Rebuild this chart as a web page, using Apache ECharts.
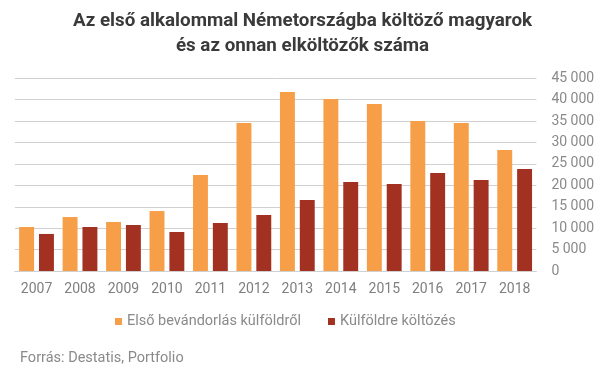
<!DOCTYPE html>
<html>
<head>
<meta charset="utf-8">
<script src="https://cdn.jsdelivr.net/npm/echarts@6/dist/echarts.min.js"></script>
<style>html,body{margin:0;padding:0;background:#fff}#c{width:605px;height:378px}</style>
</head>
<body>
<div id="c"></div>
<script>
const categories = ['2007','2008','2009','2010','2011','2012','2013','2014','2015','2016','2017','2018'];
const arrivals = [10280, 12600, 11450, 14000, 22400, 34560, 41800, 40170, 39000, 35030, 34560, 28260];
const departures = [8650, 10280, 10740, 9110, 11210, 13080, 16580, 20790, 20320, 22890, 21250, 23820];
const seriesNames = ['Első bevándorlás külföldről', 'Külföldre költözés'];
const yTicks = { min: 0, max: 45000, interval: 5000 };

const fmt = v => String(v).replace(/\B(?=(\d{3})+(?!\d))/g, ' ');
const chart = echarts.init(document.getElementById('c'), null, { renderer: 'canvas' });
chart.setOption({
  animation: false,
  backgroundColor: '#ffffff',
  textStyle: { fontFamily: 'Roboto' },
  title: [
    {
      text: 'Az első alkalommal Németországba költöző magyarok\nés az onnan elköltözők száma',
      left: 'center', top: 9, padding: 0,
      textStyle: { fontFamily: 'Roboto', fontSize: 18.8, fontWeight: 'bold', color: '#3a3a3a', lineHeight: 25 }
    },
    {
      text: 'Forrás: Destatis, Portfolio',
      left: 20, top: 351, padding: 0,
      textStyle: { fontFamily: 'Roboto', fontSize: 14.5, fontWeight: 'normal', color: '#8a8a8a' }
    }
  ],
  legend: {
    left: 115, top: 314, padding: 0,
    itemWidth: 7, itemHeight: 7, itemGap: 27,
    icon: 'rect',
    textStyle: { fontFamily: 'Roboto', fontSize: 14.5, color: '#8a8a8a' },
    data: seriesNames
  },
  grid: { left: 14.8, right: 68.6, top: 78.3, bottom: 107, containLabel: false },
  xAxis: {
    type: 'category',
    data: categories,
    axisLine: { lineStyle: { color: '#d0d0d0', width: 1 } },
    axisTick: { show: false },
    axisLabel: { color: '#7f7f7f', fontSize: 14, fontFamily: 'Roboto', margin: 11 }
  },
  yAxis: {
    type: 'value',
    position: 'right',
    min: yTicks.min, max: yTicks.max, interval: yTicks.interval,
    axisLine: { show: false },
    axisTick: { show: false },
    splitLine: { lineStyle: { color: '#d0d0d0', width: 1 } },
    axisLabel: { color: '#8a8a8a', fontSize: 14, fontFamily: 'Roboto', margin: 15, formatter: fmt }
  },
  series: [
    { name: seriesNames[0], type: 'bar', data: arrivals, itemStyle: { color: '#F79E48' }, barGap: '33%', barCategoryGap: '20%' },
    { name: seriesNames[1], type: 'bar', data: departures, itemStyle: { color: '#A33122' }, barGap: '33%', barCategoryGap: '20%' }
  ]
});
</script>
</body>
</html>
